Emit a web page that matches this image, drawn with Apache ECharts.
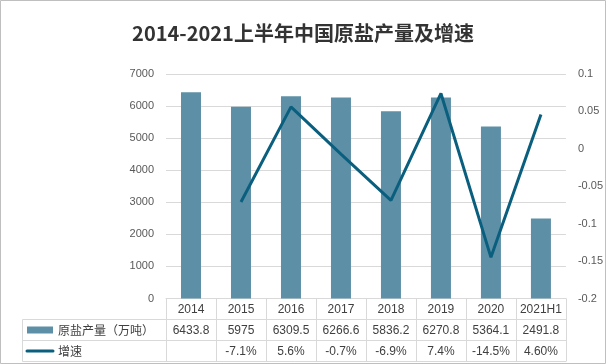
<!DOCTYPE html>
<html><head><meta charset="utf-8">
<script src="https://cdn.jsdelivr.net/npm/echarts@6/dist/echarts.min.js"></script>
<style>html,body{margin:0;padding:0;background:#fff}#c{width:606px;height:364px}</style>
</head><body><div id="c"></div>
<script>
var categories = ['2014','2015','2016','2017','2018','2019','2020','2021H1'];
var production = [6433.8, 5975, 6309.5, 6266.6, 5836.2, 6270.8, 5364.1, 2491.8];
var productionLabels = ['6433.8','5975','6309.5','6266.6','5836.2','6270.8','5364.1','2491.8'];
var growth = [null, -0.071, 0.056, -0.007, -0.069, 0.074, -0.145, 0.046];
var growthLabels = ['', '-7.1%', '5.6%', '-0.7%', '-6.9%', '7.4%', '-14.5%', '4.60%'];
var leftTicks = {min:0, max:7000, interval:1000};
var rightTicks = {min:-0.2, max:0.1, interval:0.05};

var BAR = '#5d90a7', LINE = '#0b5f7e', GRID = '#d9d9d9', TXT = '#404040', AX = '#595959';
var FONT = '"Liberation Sans","Noto Sans CJK SC",sans-serif';
var G = {left:166, right:40, top:74, bottom:65.5};
var rowH = 21;

var chart = echarts.init(document.getElementById('c'));
function tableAxis(data, idx){
  return {type:'category', data:data, gridIndex:0, position:'bottom', offset: idx*rowH,
    axisLine:{show:false}, axisTick:{show:false}, splitLine:{show:false},
    axisLabel:{interval:0, margin:5, color:TXT, fontSize:12, fontFamily:FONT}};
}
var bottomY = 364 - G.bottom;
var option = {
  animation:false,
  title:{text:'2014-2021上半年中国原盐产量及增速', left:'center', top:18,
    textStyle:{fontSize:20, fontWeight:'bold', color:'#333', fontFamily:'"Noto Sans CJK SC",sans-serif'}},
  grid:G,
  xAxis:[
    {type:'category', data:categories, position:'bottom',
      axisLine:{show:true, lineStyle:{color:GRID}},
      axisTick:{show:true, interval:0, length:rowH*3, lineStyle:{color:GRID}},
      axisLabel:{interval:0, margin:5, color:TXT, fontSize:12, fontFamily:FONT}},
    tableAxis(productionLabels, 1),
    tableAxis(growthLabels, 2)
  ],
  yAxis:[
    {type:'value', min:leftTicks.min, max:leftTicks.max, interval:leftTicks.interval,
      axisLine:{show:false}, axisTick:{show:false},
      splitLine:{lineStyle:{color:GRID}},
      axisLabel:{margin:12, color:AX, fontSize:11, fontFamily:FONT,
        formatter:function(v){return String(v);}}},
    {type:'value', min:rightTicks.min, max:rightTicks.max, interval:rightTicks.interval,
      position:'right', axisLine:{show:false}, axisTick:{show:false}, splitLine:{show:false},
      axisLabel:{margin:12, color:AX, fontSize:11, fontFamily:FONT,
        formatter:function(v){return String(+v.toFixed(2));}}}
  ],
  series:[
    {name:'原盐产量（万吨）', type:'bar', data:production, barWidth:20, xAxisIndex:0, yAxisIndex:0,
      itemStyle:{color:BAR}},
    {name:'增速', type:'line', data:growth, xAxisIndex:0, yAxisIndex:1, showSymbol:false, symbol:'none',
      lineStyle:{color:LINE, width:3}, itemStyle:{color:LINE}}
  ],
  graphic:[
    {type:'rect', shape:{x:0.5,y:0.5,width:605,height:363}, style:{fill:null, stroke:'#bfbfbf', lineWidth:1}, silent:true},
    {type:'line', shape:{x1:22.5,y1:bottomY+rowH,x2:606-G.right,y2:bottomY+rowH}, style:{stroke:GRID,lineWidth:1}},
    {type:'line', shape:{x1:22.5,y1:bottomY+rowH*2,x2:606-G.right,y2:bottomY+rowH*2}, style:{stroke:GRID,lineWidth:1}},
    {type:'line', shape:{x1:22.5,y1:bottomY+rowH*3,x2:606-G.right,y2:bottomY+rowH*3}, style:{stroke:GRID,lineWidth:1}},
    {type:'line', shape:{x1:22.5,y1:bottomY+rowH,x2:22.5,y2:bottomY+rowH*3}, style:{stroke:GRID,lineWidth:1}},
    {type:'rect', shape:{x:27,y:bottomY+rowH*1.5-3.5,width:26,height:7}, style:{fill:BAR}},
    {type:'text', x:58, y:bottomY+rowH*1.5, style:{text:'原盐产量（万吨）', fill:TXT, font:'12px "Noto Sans CJK SC",sans-serif', textVerticalAlign:'middle', verticalAlign:'middle'}},
    {type:'line', shape:{x1:27,y1:bottomY+rowH*2.5,x2:53,y2:bottomY+rowH*2.5}, style:{stroke:LINE,lineWidth:3,lineCap:'round'}},
    {type:'text', x:58, y:bottomY+rowH*2.5, style:{text:'增速', fill:TXT, font:'12px "Noto Sans CJK SC",sans-serif', textVerticalAlign:'middle', verticalAlign:'middle'}}
  ]
};
chart.setOption(option);
</script></body></html>
